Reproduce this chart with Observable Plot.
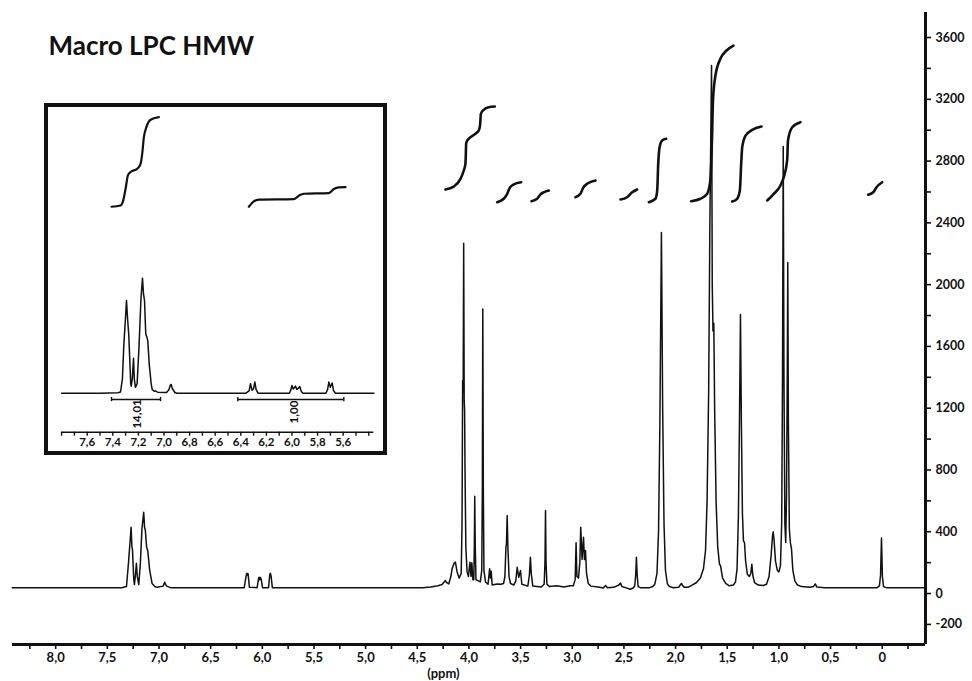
<!DOCTYPE html>
<html><head><meta charset="utf-8">
<script src="https://cdn.jsdelivr.net/npm/d3@7"></script>
<script src="https://cdn.jsdelivr.net/npm/@observablehq/plot@0.6"></script>
<style>
body{margin:0;background:#fff;}
#wrap{position:relative;width:972px;height:681px;font-family:Lato,sans-serif;}
#main svg{display:block;}
#inset{position:absolute;left:44px;top:103px;width:343px;height:352px;border:4px solid #111;box-sizing:border-box;background:#fff;}
#inset svg{display:block;}
</style></head><body>
<div id="wrap"><div id="main"></div><div id="inset"></div></div>
<script>
// ---- main spectrum: [ppm, intensity] vertices ----
const spectrum = [
 [8.42,38],[7.36,38],[7.315,45],[7.295,200],[7.27,429],[7.262,300],[7.257,289],[7.245,100],[7.238,58],[7.228,120],[7.219,196],[7.21,110],[7.196,58],[7.18,200],[7.165,420],[7.148,526],[7.14,430],[7.132,408],[7.12,300],[7.109,278],[7.09,150],[7.067,65],[7.04,45],[7.018,40],[6.96,48],[6.945,73],[6.93,50],[6.89,38],
 [6.175,38],[6.158,110],[6.150,131],[6.144,120],[6.138,128],[6.125,40],
 [6.05,38],[6.036,100],[6.030,105],[6.024,88],[6.018,104],[6.010,90],[5.998,38],
 [5.94,38],[5.928,120],[5.922,131],[5.915,112],[5.903,38],
 [4.45,38],[4.37,42],[4.30,50],[4.26,58],[4.24,75],[4.229,84],[4.215,70],[4.196,62],[4.175,110],[4.163,160],[4.145,195],[4.131,203],[4.115,140],[4.095,100],
 [4.075,130],[4.067,450],[4.061,1379],[4.056,1300],[4.051,2268],[4.046,1250],[4.042,1185],[4.038,800],[4.03,300],[4.018,140],
 [4.005,110],[3.99,203],[3.98,110],[3.972,200],[3.962,90],
 [3.953,90],[3.948,300],[3.944,630],[3.939,300],[3.932,90],
 [3.89,75],[3.876,150],[3.870,700],[3.866,1843],[3.861,700],[3.855,150],[3.84,75],
 [3.815,60],[3.80,160],[3.792,100],[3.785,145],[3.775,55],
 [3.727,62],[3.69,60],[3.665,65],[3.652,110],[3.642,300],[3.637,320],[3.630,505],[3.623,300],[3.612,110],[3.598,65],
 [3.565,55],[3.547,80],[3.533,170],[3.518,105],[3.501,149],[3.488,60],
 [3.43,48],[3.415,120],[3.405,235],[3.397,130],[3.382,48],
 [3.30,42],[3.272,60],[3.264,200],[3.259,537],[3.254,200],[3.245,60],[3.22,45],
 [3.15,50],[3.08,42],[3.02,50],[2.99,50],[2.972,90],[2.963,328],[2.955,110],[2.94,100],[2.927,200],[2.918,429],[2.905,220],[2.891,365],[2.882,220],[2.872,278],[2.862,130],[2.845,65],[2.82,48],
 [2.75,42],[2.70,36],[2.678,52],[2.66,38],[2.60,40],[2.548,55],[2.533,68],[2.52,45],[2.47,35],[2.44,28],[2.41,36],
 [2.395,50],[2.386,120],[2.379,235],[2.372,120],[2.362,45],[2.34,38],
 [2.25,38],[2.22,45],[2.20,62],[2.18,130],[2.165,400],[2.152,1100],[2.137,2337],[2.125,1200],[2.112,450],[2.098,150],[2.08,65],[2.06,45],[2.02,38],
 [1.97,40],[1.955,55],[1.943,65],[1.93,50],[1.915,40],[1.88,40],
 [1.84,55],[1.80,70],[1.76,100],[1.73,160],[1.71,280],[1.695,600],[1.68,1300],[1.668,2400],[1.652,3419],[1.645,2000],[1.638,1700],[1.630,1750],[1.622,1200],[1.608,600],[1.592,300],[1.575,190],[1.565,180],[1.545,100],[1.515,65],[1.48,50],
 [1.44,55],[1.42,75],[1.405,160],[1.392,500],[1.381,1150],[1.372,1806],[1.363,1100],[1.353,520],[1.343,340],[1.333,330],[1.322,210],[1.305,125],[1.285,110],[1.272,130],[1.262,190],[1.252,115],[1.235,70],[1.20,55],[1.15,52],
 [1.12,60],[1.095,110],[1.075,250],[1.062,370],[1.055,400],[1.047,350],[1.033,210],[1.015,150],[1.0,140],[0.985,180],[0.973,450],[0.965,1400],[0.958,2894],[0.951,1400],[0.942,450],[0.934,330],[0.926,650],[0.919,1400],[0.914,2143],[0.908,1100],[0.899,420],[0.889,330],[0.878,290],[0.865,150],[0.845,80],[0.82,55],[0.78,45],[0.70,40],[0.665,45],[0.648,62],[0.632,42],[0.56,38],
 [0.30,38],[0.05,38],[0.027,50],[0.016,120],[0.007,360],[-0.002,110],[-0.013,45],[-0.04,38],[-0.42,38]
];

// ---- integral traces on the main spectrum: [ppm, value] ----
const integral1 = [[4.228,2616],[4.147,2635],[4.082,2685],[4.05,2739],[4.034,2782],[4.030,2850],[4.027,2912],[4.017,2933],[3.937,2977],[3.905,2998],[3.893,3030],[3.889,3063],[3.885,3106],[3.857,3132],[3.808,3149],[3.750,3153]];
const integral2 = [[3.727,2534],[3.663,2556],[3.630,2588],[3.605,2627],[3.566,2649],[3.495,2663]];
const integral3 = [[3.395,2540],[3.340,2556],[3.308,2584],[3.276,2598],[3.227,2609]];
const integral4 = [[2.969,2566],[2.921,2588],[2.895,2627],[2.856,2653],[2.775,2674]];
const integral5 = [[2.533,2551],[2.469,2566],[2.420,2598],[2.372,2616]];
const integral6 = [[2.259,2534],[2.195,2556],[2.178,2609],[2.168,2782],[2.155,2890],[2.130,2933],[2.091,2944]];
const integral7 = [[1.849,2540],[1.759,2556],[1.694,2588],[1.662,2685],[1.648,2933],[1.638,3192],[1.614,3354],[1.565,3464],[1.507,3516],[1.440,3548]];
const integral8 = [[1.452,2538],[1.404,2556],[1.378,2609],[1.365,2782],[1.355,2890],[1.323,2965],[1.258,3002],[1.168,3024]];
const integral9 = [[1.113,2545],[1.049,2588],[0.985,2642],[0.953,2696],[0.920,2804],[0.912,2933],[0.871,3019],[0.791,3052]];
const integral10 = [[0.136,2582],[0.087,2598],[0.055,2631],[0.0,2663]];
const integrals = [integral1,integral2,integral3,integral4,integral5,integral6,integral7,integral8,integral9,integral10];

// ---- axis ticks ----
const xTicks = d3.range(0, 35).map(i => +(8.25 - i * 0.25).toFixed(2));
const yTicks = d3.range(-200, 3601, 200);

// ---- inset (aromatic / vinyl region) ----
const insetSpectrum = [
 [7.80,0],[7.50,0],[7.36,2],[7.34,5],[7.325,60],[7.314,202],[7.303,300],[7.293,393],[7.285,320],[7.275,245],[7.268,150],[7.26,40],[7.256,30],[7.248,60],[7.238,148],[7.232,60],[7.223,25],[7.21,40],[7.195,200],[7.18,400],[7.168,488],[7.16,420],[7.152,393],[7.146,300],[7.142,250],[7.135,240],[7.127,224],[7.115,120],[7.1,40],[7.092,15],[7.075,8],[7.066,10],[7.05,4],[6.98,3],[6.962,15],[6.95,35],[6.944,37],[6.935,20],[6.915,3],[6.9,0],
 [6.36,0],[6.335,10],[6.324,40],[6.312,12],[6.30,20],[6.29,47],[6.28,15],[6.265,0],
 [6.02,0],[6.008,15],[6.0,33],[5.99,18],[5.983,22],[5.973,30],[5.962,16],[5.952,20],[5.939,28],[5.928,8],[5.915,0],
 [5.735,0],[5.722,15],[5.712,47],[5.70,25],[5.686,43],[5.675,10],[5.66,0],[5.36,0]
];
const insetIntegral1 = [[7.410,791],[7.340,796],[7.319,817],[7.300,867],[7.282,924],[7.261,938],[7.209,952],[7.183,973],[7.170,1016],[7.157,1086],[7.136,1131],[7.105,1160],[7.040,1171]];
const insetIntegral2 = [[6.337,791],[6.298,814],[6.259,821],[5.986,823],[5.946,838],[5.907,846],[5.712,849],[5.673,866],[5.634,873],[5.582,874]];
const insetBrackets = [{from:7.410,to:7.027,label:"14,01",mid:7.209,ly:-88},{from:6.423,to:5.595,label:"1,00",mid:5.98,ly:-80}];
const insetTicks = d3.range(0, 25).map(i => +(7.8 - i * 0.1).toFixed(1));

const title = "Macro LPC HMW";
const font = "Lato, sans-serif";

const fmtX = d => (Math.abs(d * 2 - Math.round(d * 2)) < 1e-6) ? (d === 0 ? "0" : d.toFixed(1).replace(".", ",")) : "";
const fmtY = d => (d % 400 === 0 || d === -200) ? String(d) : "";
const fmtInset = d => { const k = Math.round(d * 10); return (k % 2 === 0 && k <= 76 && k >= 56) ? d.toFixed(1).replace(".", ",") : ""; };

const rows = integrals.flatMap((c, i) => c.map(p => ({id: i, ppm: p[0], v: p[1]})));

const main = Plot.plot({
  width: 972, height: 681,
  marginLeft: 12, marginRight: 47, marginTop: 12, marginBottom: 37,
  x: {domain: [8.418, -0.419], axis: null},
  y: {domain: [-330, 3762], axis: null},
  style: {fontFamily: font, fontWeight: 700, fontSize: "13px", background: "white", color: "#111"},
  marks: [
    Plot.line(spectrum, {x: d => d[0], y: d => d[1], stroke: "#111", strokeWidth: 1.5, strokeLinejoin: "round"}),
    Plot.line(rows, {x: "ppm", y: "v", z: "id", stroke: "#111", strokeWidth: 2.6, strokeLinecap: "round", curve: "monotone-x"}),
    Plot.ruleY([-330], {stroke: "#111", strokeWidth: 3}),
    Plot.ruleX([-0.419], {stroke: "#111", strokeWidth: 3}),
    Plot.axisX(xTicks, {anchor: "bottom", tickSize: 5, tickPadding: 3, strokeWidth: 1.6, tickFormat: fmtX, label: null, fontWeight: 700, fontSize: 13, fontFamily: font}),
    Plot.axisY(yTicks, {anchor: "right", tickSize: 5, tickPadding: 5, strokeWidth: 1.6, tickFormat: fmtY, label: null, fontWeight: 700, fontSize: 12.5, fontFamily: font}),
    Plot.text(["(ppm)"], {x: 4.247, y: -330, dy: 29, text: d => d, fontWeight: 700, fontSize: 13, fontFamily: font}),
    Plot.text([title], {frameAnchor: "top-left", dx: 36, dy: 24, text: d => d, textAnchor: "start", lineAnchor: "top", fontSize: 26, fontWeight: 700, fontFamily: font})
  ]
});
document.getElementById("main").appendChild(main);

const irows = [insetIntegral1, insetIntegral2].flatMap((c, i) => c.map(p => ({id: i, ppm: p[0], v: p[1]})));
const inset = Plot.plot({
  width: 335, height: 344,
  marginLeft: 13.1, marginRight: 9.6, marginTop: 0, marginBottom: 19.3,
  x: {domain: [7.8, 5.36], axis: null},
  y: {domain: [-165.5, 1212], axis: null},
  style: {fontFamily: font, fontWeight: 700, fontSize: "11.5px", background: "white", color: "#111"},
  marks: [
    Plot.ruleY([-165.5], {stroke: "#111", strokeWidth: 1.6}),
    Plot.axisX(insetTicks, {anchor: "bottom", tickSize: 4, tickPadding: 2, strokeWidth: 1.4, tickFormat: fmtInset, label: null, fontWeight: 700, fontSize: 11.5, fontFamily: font}),
    Plot.line(insetSpectrum, {x: d => d[0], y: d => d[1], stroke: "#111", strokeWidth: 1.5, strokeLinejoin: "round"}),
    Plot.line(irows, {x: "ppm", y: "v", z: "id", stroke: "#111", strokeWidth: 2.2, strokeLinecap: "round", curve: "monotone-x"}),
    Plot.ruleY(insetBrackets, {y: -27, x1: "from", x2: "to", stroke: "#111", strokeWidth: 1.4}),
    Plot.ruleX(insetBrackets.flatMap(b => [b.from, b.to]), {x: d => d, y1: -36, y2: -18, stroke: "#111", strokeWidth: 1.4}),
    Plot.text(insetBrackets, {x: "mid", y: "ly", text: "label", rotate: -90, fontWeight: 700, fontSize: 11.5, fontFamily: font})
  ]
});
document.getElementById("inset").appendChild(inset);
</script>
</body></html>
